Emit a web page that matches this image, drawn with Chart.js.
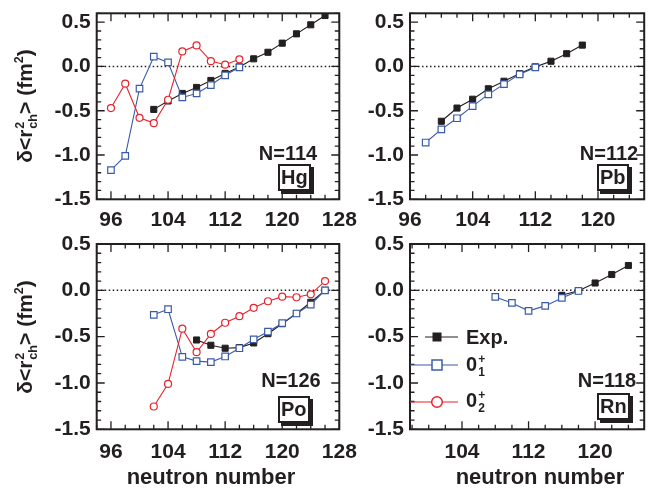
<!DOCTYPE html>
<html>
<head>
<meta charset="utf-8">
<script src="https://cdn.jsdelivr.net/npm/chart.js@4/dist/chart.umd.min.js"></script>
<style>
html, body { margin: 0; padding: 0; background: #fff; }
#wrap { position: relative; width: 650px; height: 489px; overflow: hidden;
        font-family: "Liberation Sans", Arial, sans-serif; font-weight: bold; color: #231f20; }
#wrap canvas { position: absolute; left: 0; top: 0; }
.lbl { position: absolute; transform: translate(-50%, -50%); white-space: nowrap; line-height: 1; font-size: 20px; }
.nuc { position: absolute; border: 2px solid #231f20; background: #fff; box-shadow: 3px 3px 0 #231f20;
       font-size: 20px; line-height: 23px; padding: 0 1px; }
.ytitle { position: absolute; transform: translate(-50%, -50%) rotate(-90deg); font-size: 21px; white-space: nowrap; line-height: 1; }
.xtitle { position: absolute; transform: translate(-50%, -50%); font-size: 22px; white-space: nowrap; line-height: 1; }
.ss { display: inline-flex; flex-direction: column; font-size: 0.6em; line-height: 1.05; vertical-align: 0.65em; margin-left: 1px; }
.leg { position: absolute; transform: translateY(-50%); font-size: 20px; line-height: 1; white-space: nowrap; }
sup { font-size: 0.6em; vertical-align: 0.7em; line-height: 0; }
</style>
</head>
<body>
<div id="wrap">
  <canvas id="cHg" width="650" height="489"></canvas>
  <canvas id="cPb" width="650" height="489"></canvas>
  <canvas id="cPo" width="650" height="489"></canvas>
  <canvas id="cRn" width="650" height="489"></canvas>

  <div class="ytitle" style="left:27px; top:106px;">δ&lt;r<span class="ss"><span>2</span><span>ch</span></span>&gt; (fm<sup>2</sup>)</div>
  <div class="ytitle" style="left:27px; top:337px;">δ&lt;r<span class="ss"><span>2</span><span>ch</span></span>&gt; (fm<sup>2</sup>)</div>
  <div class="xtitle" style="left:211px; top:477px;">neutron number</div>
  <div class="xtitle" style="left:540px; top:477px;">neutron number</div>

  <div class="lbl" style="left:288px; top:153px;">N=114</div>
  <div class="lbl" style="left:609px; top:153px;">N=112</div>
  <div class="lbl" style="left:291px; top:380px;">N=126</div>
  <div class="lbl" style="left:607px; top:380px;">N=118</div>
  <div class="nuc" style="left:278px; top:164px;">Hg</div>
  <div class="nuc" style="left:597px; top:164px;">Pb</div>
  <div class="nuc" style="left:278px; top:396px;">Po</div>
  <div class="nuc" style="left:597px; top:393px;">Rn</div>

  <div class="leg" style="left:466px; top:337px;">Exp.</div>
  <div class="leg" style="left:466px; top:366px;">0<span class="ss"><span>+</span><span>1</span></span></div>
  <div class="leg" style="left:466px; top:402px;">0<span class="ss"><span>+</span><span>2</span></span></div>
</div>

<script>
// === DATA (neutron number N, delta <r^2_ch> in fm^2) ===
// Hg
const hgExpN = [102, 104, 106, 108, 110, 112, 114, 116, 118, 120, 122, 124, 126, 128];
const hgExp  = [-0.485, -0.39, -0.305, -0.237, -0.158, -0.079, -0.005, 0.086, 0.16, 0.263, 0.368, 0.47, 0.575, 0.68];
const hgThN  = [96, 98, 100, 102, 104, 106, 108, 110, 112, 114];
const hgS1   = [-1.17, -1.01, -0.25, 0.11, 0.045, -0.35, -0.305, -0.21, -0.10, -0.01];
const hgS2   = [-0.47, -0.195, -0.58, -0.64, -0.376, 0.17, 0.237, 0.06, 0.02, 0.08];
// Pb
const pbExpN = [100, 102, 104, 106, 108, 110, 112, 114, 116, 118];
const pbExp  = [-0.619, -0.47, -0.37, -0.252, -0.167, -0.081, -0.005, 0.059, 0.144, 0.241];
const pbThN  = [98, 100, 102, 104, 106, 108, 110, 112];
const pbS1   = [-0.859, -0.711, -0.585, -0.448, -0.315, -0.2, -0.089, -0.011];
// Po
const poExpN = [108, 110, 112, 114, 116, 118, 120, 122, 124, 126];
const poExp  = [-0.536, -0.593, -0.625, -0.618, -0.568, -0.468, -0.36, -0.25, -0.129, 0];
const poThN  = [102, 104, 106, 108, 110, 112, 114, 116, 118, 120, 122, 124, 126];
const poS1   = [-0.264, -0.204, -0.718, -0.764, -0.775, -0.714, -0.625, -0.529, -0.446, -0.354, -0.25, -0.154, 0];
const poS2   = [-1.254, -1.01, -0.414, -0.668, -0.471, -0.35, -0.279, -0.189, -0.118, -0.068, -0.075, -0.043, 0.1];
// Rn
const rnExpN = [116, 118, 120, 122, 124];
const rnExp  = [-0.054, -0.004, 0.079, 0.171, 0.268];
const rnThN  = [108, 110, 112, 114, 116, 118];
const rnS1   = [-0.071, -0.136, -0.221, -0.168, -0.082, -0.007];

// tick labels
const xTicksLeft  = [96, 104, 112, 120, 128];
const xTicksPb    = [96, 104, 112, 120];
const xTicksRn    = [104, 112, 120];
const yTicks      = [-1.5, -1.0, -0.5, 0.0, 0.5];

// === STYLE ===
const BLACK = '#231f20';
const BLUE  = '#3a5ca8';
const RED   = '#e8232b';
const Y_W = 60, X_H = 34;

Chart.defaults.font.family = '"Liberation Sans", Arial, sans-serif';
Chart.defaults.font.weight = 'bold';
Chart.defaults.color = BLACK;

const pts = (ns, vs) => ns.map((n, i) => ({ x: n, y: vs[i] }));

function expSet(ns, vs) {
    return { data: pts(ns, vs), borderColor: BLACK, borderWidth: 1.1, pointStyle: 'rect', pointRadius: 4.3,
             pointBackgroundColor: BLACK, pointBorderColor: BLACK, pointBorderWidth: 1, order: 3, clip: 0 };
}
function s1Set(ns, vs) {
    return { data: pts(ns, vs), borderColor: BLUE, borderWidth: 1.1, pointStyle: 'rect', pointRadius: 4.6,
             pointBackgroundColor: '#fff', pointBorderColor: BLUE, pointBorderWidth: 1.2, order: 2, clip: 0 };
}
function s2Set(ns, vs) {
    return { data: pts(ns, vs), borderColor: RED, borderWidth: 1.1, pointStyle: 'circle', pointRadius: 3.5,
             pointBackgroundColor: '#fff', pointBorderColor: RED, pointBorderWidth: 1.2, order: 1, clip: 0 };
}

// frame, inward ticks and dotted zero line
const framePlugin = {
    id: 'frame',
    beforeDatasetsDraw(chart) {
        const { ctx, chartArea: a, scales: { y } } = chart;
        const y0 = y.getPixelForValue(0);
        ctx.save();
        ctx.strokeStyle = BLACK;
        ctx.lineWidth = 1.5;
        ctx.setLineDash([1.5, 2.5]);
        ctx.beginPath();
        ctx.moveTo(a.left, y0);
        ctx.lineTo(a.right, y0);
        ctx.stroke();
        ctx.restore();
    },
    afterDatasetsDraw(chart) {
        const { ctx, chartArea: a, scales: { x, y } } = chart;
        ctx.save();
        ctx.strokeStyle = BLACK;
        ctx.lineWidth = 1.3;
        ctx.beginPath();
        for (let v = Math.ceil(x.min / 2) * 2; v <= x.max + 1e-6; v += 2) {
            const px = x.getPixelForValue(v);
            const len = v % 8 === 0 ? 8 : 4.5;
            ctx.moveTo(px, a.bottom); ctx.lineTo(px, a.bottom - len);
            ctx.moveTo(px, a.top);    ctx.lineTo(px, a.top + len);
        }
        for (let k = -15; k <= Math.round(y.max * 10); k++) {
            const py = y.getPixelForValue(k / 10);
            const len = k % 5 === 0 ? 8 : 4.5;
            ctx.moveTo(a.left, py);  ctx.lineTo(a.left + len, py);
            ctx.moveTo(a.right, py); ctx.lineTo(a.right - len, py);
        }
        ctx.stroke();
        ctx.lineWidth = 2;
        ctx.strokeRect(a.left, a.top, a.right - a.left, a.bottom - a.top);
        ctx.restore();
    }
};

// legend symbols in the Rn panel
const legendPlugin = {
    id: 'legendSymbols',
    afterDraw(chart) {
        if (!chart.options.plugins.legendSymbols.show) return;
        const ctx = chart.ctx;
        const xm = 437;
        ctx.save();
        ctx.lineWidth = 1.2;
        // Exp.
        ctx.strokeStyle = BLACK;
        ctx.beginPath(); ctx.moveTo(425, 337); ctx.lineTo(458, 337); ctx.stroke();
        ctx.fillStyle = BLACK;
        ctx.fillRect(xm - 4.5, 337 - 4.5, 9, 9);
        // 0_1+
        ctx.strokeStyle = BLUE;
        ctx.beginPath(); ctx.moveTo(410, 365); ctx.lineTo(458, 365); ctx.stroke();
        ctx.fillStyle = '#fff';
        ctx.fillRect(xm - 5, 365 - 5, 10, 10);
        ctx.lineWidth = 1.5;
        ctx.strokeRect(xm - 5, 365 - 5, 10, 10);
        // 0_2+
        ctx.lineWidth = 1.2;
        ctx.strokeStyle = RED;
        ctx.beginPath(); ctx.moveTo(410, 402); ctx.lineTo(458, 402); ctx.stroke();
        ctx.beginPath(); ctx.arc(xm, 402, 5.3, 0, Math.PI * 2);
        ctx.fillStyle = '#fff'; ctx.fill();
        ctx.lineWidth = 1.5; ctx.stroke();
        ctx.restore();
    }
};

function makePanel(id, area, xMin, xMax, yMax, xTicks, xPad, datasets, showLegend) {
    const [l, t, r, b] = area;
    return new Chart(document.getElementById(id), {
        type: 'line',
        data: { datasets },
        plugins: [framePlugin, legendPlugin],
        options: {
            responsive: false,
            animation: false,
            events: [],
            layout: { padding: { left: l - Y_W, top: t, right: 650 - r, bottom: 489 - b - X_H } },
            plugins: { legend: { display: false }, tooltip: { enabled: false }, legendSymbols: { show: showLegend } },
            scales: {
                x: {
                    type: 'linear', min: xMin, max: xMax,
                    grid: { display: false, drawTicks: false }, border: { display: false },
                    afterBuildTicks: s => { s.ticks = xTicks.map(v => ({ value: v })); },
                    afterFit: s => { s.height = X_H; s.paddingLeft = 0; s.paddingRight = 0; },
                    ticks: { autoSkip: false, maxRotation: 0, padding: xPad, font: { size: 21, weight: 'bold' },
                             color: BLACK, callback: v => String(v) }
                },
                y: {
                    min: -1.5, max: yMax,
                    grid: { display: false, drawTicks: false }, border: { display: false },
                    afterBuildTicks: s => { s.ticks = yTicks.map(v => ({ value: v })); },
                    afterFit: s => { s.width = Y_W; s.paddingTop = 0; s.paddingBottom = 0; },
                    ticks: { padding: 6, font: { size: 21, weight: 'bold' }, color: BLACK,
                             callback: v => v.toFixed(1) }
                }
            }
        }
    });
}

makePanel('cHg', [96.7, 13.3, 339.3, 199.3], 94, 128, 0.6, xTicksLeft, 8,
    [expSet(hgExpN, hgExp), s1Set(hgThN, hgS1), s2Set(hgThN, hgS2)], false);
makePanel('cPb', [410, 13.3, 650, 199.3], 96, 125.9, 0.6, xTicksPb, 8,
    [expSet(pbExpN, pbExp), s1Set(pbThN, pbS1)], false);
makePanel('cPo', [96.7, 244, 339.3, 429.3], 94, 128, 0.5, xTicksLeft, 10,
    [expSet(poExpN, poExp), s1Set(poThN, poS1), s2Set(poThN, poS2)], false);
makePanel('cRn', [410, 244, 650, 429.3], 97.75, 125.9, 0.5, xTicksRn, 10,
    [expSet(rnExpN, rnExp), s1Set(rnThN, rnS1)], true);
</script>
</body>
</html>
